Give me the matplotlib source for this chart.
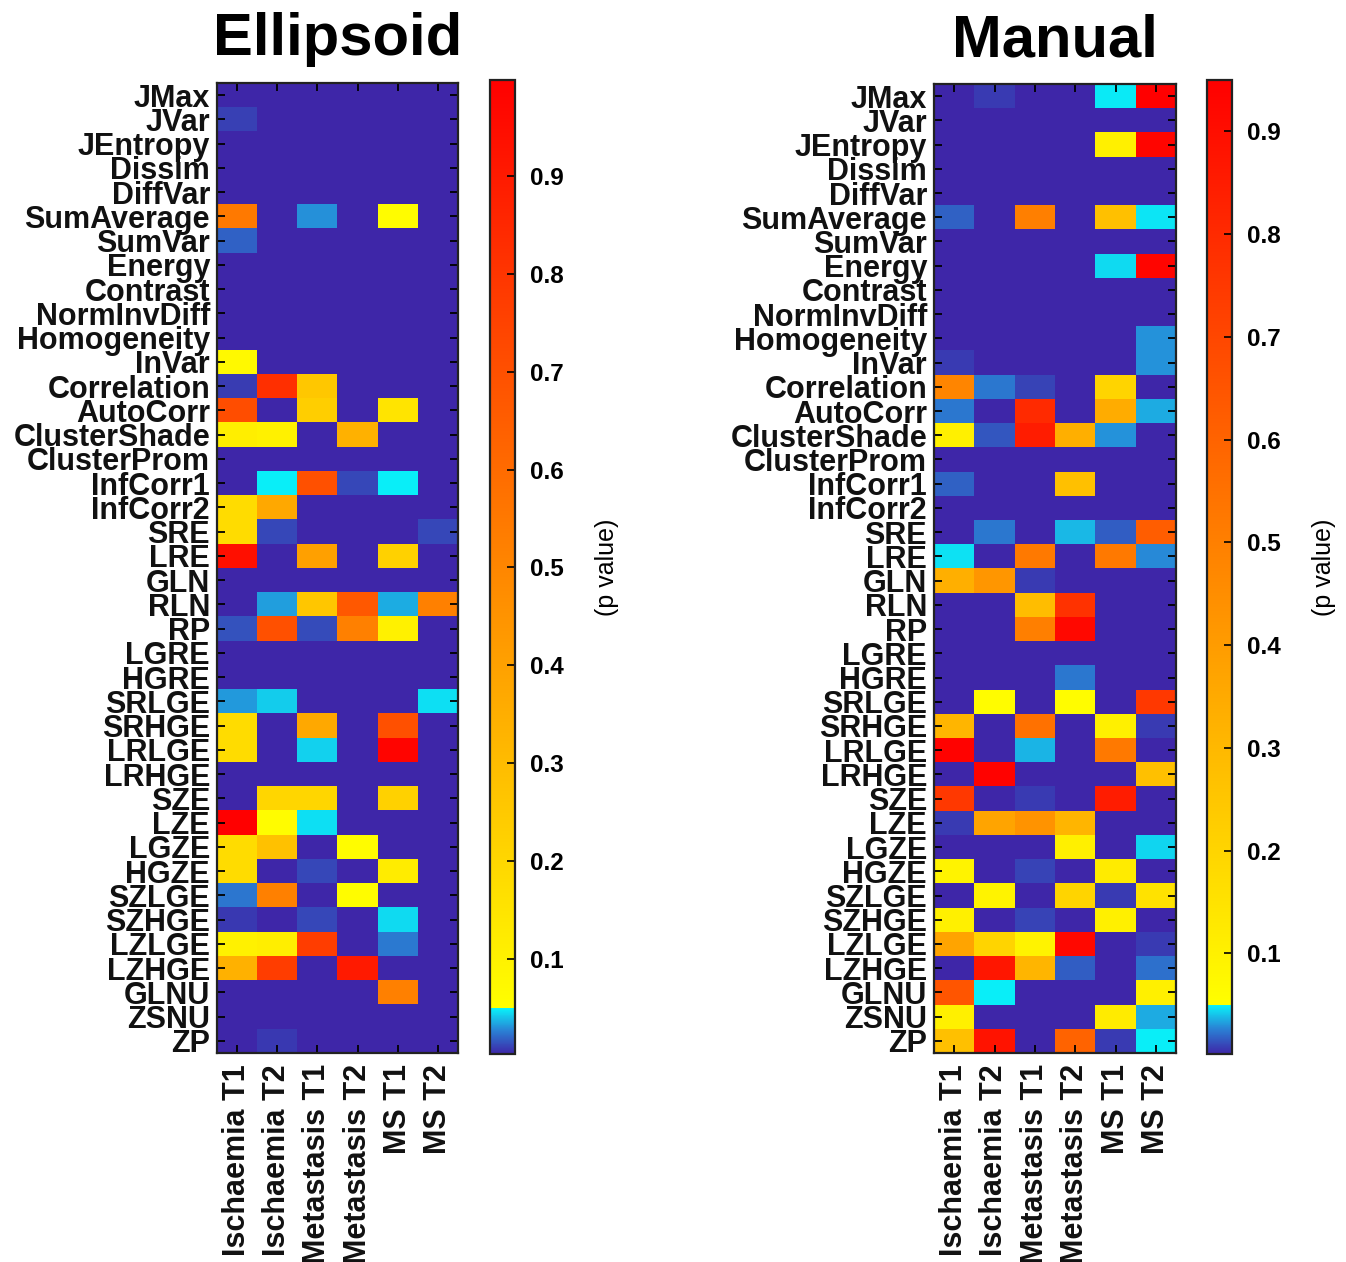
import numpy as np
import matplotlib
matplotlib.use('Agg')
import matplotlib.pyplot as plt
from matplotlib.colors import LinearSegmentedColormap

plt.rcParams['font.family'] = ['Liberation Sans', 'DejaVu Sans']

# ---- data ----
features = ['JMax', 'JVar', 'JEntropy', 'Dissim', 'DiffVar', 'SumAverage', 'SumVar',
            'Energy', 'Contrast', 'NormInvDiff', 'Homogeneity', 'InVar', 'Correlation',
            'AutoCorr', 'ClusterShade', 'ClusterProm', 'InfCorr1', 'InfCorr2', 'SRE',
            'LRE', 'GLN', 'RLN', 'RP', 'LGRE', 'HGRE', 'SRLGE', 'SRHGE', 'LRLGE',
            'LRHGE', 'SZE', 'LZE', 'LGZE', 'HGZE', 'SZLGE', 'SZHGE', 'LZLGE', 'LZHGE',
            'GLNU', 'ZSNU', 'ZP']
groups = ['Ischaemia T1', 'Ischaemia T2', 'Metastasis T1', 'Metastasis T2', 'MS T1', 'MS T2']

# p values, Ellipsoid segmentation
p_ellipsoid = [
    [0.003, 0.003, 0.003, 0.003, 0.003, 0.003],  # JMax
    [0.010, 0.003, 0.003, 0.003, 0.003, 0.003],  # JVar
    [0.003, 0.003, 0.003, 0.003, 0.003, 0.003],  # JEntropy
    [0.003, 0.003, 0.003, 0.003, 0.003, 0.003],  # Dissim
    [0.003, 0.003, 0.003, 0.003, 0.003, 0.003],  # DiffVar
    [0.545, 0.003, 0.030, 0.003, 0.060, 0.003],  # SumAverage
    [0.019, 0.003, 0.003, 0.003, 0.003, 0.003],  # SumVar
    [0.003, 0.003, 0.003, 0.003, 0.003, 0.003],  # Energy
    [0.003, 0.003, 0.003, 0.003, 0.003, 0.003],  # Contrast
    [0.003, 0.003, 0.003, 0.003, 0.003, 0.003],  # NormInvDiff
    [0.003, 0.003, 0.003, 0.003, 0.003, 0.003],  # Homogeneity
    [0.070, 0.003, 0.003, 0.003, 0.003, 0.003],  # InVar
    [0.009, 0.820, 0.255, 0.003, 0.003, 0.003],  # Correlation
    [0.710, 0.003, 0.230, 0.003, 0.150, 0.003],  # AutoCorr
    [0.110, 0.100, 0.003, 0.340, 0.003, 0.003],  # ClusterShade
    [0.003, 0.003, 0.003, 0.003, 0.003, 0.003],  # ClusterProm
    [0.003, 0.049, 0.700, 0.012, 0.049, 0.003],  # InfCorr1
    [0.180, 0.370, 0.003, 0.003, 0.003, 0.003],  # InfCorr2
    [0.180, 0.012, 0.003, 0.003, 0.003, 0.012],  # SRE
    [0.940, 0.003, 0.400, 0.003, 0.220, 0.003],  # LRE
    [0.003, 0.003, 0.003, 0.003, 0.003, 0.003],  # GLN
    [0.003, 0.033, 0.260, 0.670, 0.036, 0.520],  # RLN
    [0.015, 0.700, 0.013, 0.520, 0.100, 0.003],  # RP
    [0.003, 0.003, 0.003, 0.003, 0.003, 0.003],  # LGRE
    [0.003, 0.003, 0.003, 0.003, 0.003, 0.003],  # HGRE
    [0.032, 0.042, 0.003, 0.003, 0.003, 0.046],  # SRLGE
    [0.180, 0.003, 0.370, 0.003, 0.700, 0.003],  # SRHGE
    [0.180, 0.003, 0.043, 0.003, 0.980, 0.003],  # LRLGE
    [0.003, 0.003, 0.003, 0.003, 0.003, 0.003],  # LRHGE
    [0.003, 0.200, 0.200, 0.003, 0.220, 0.003],  # SZE
    [0.998, 0.060, 0.046, 0.003, 0.003, 0.003],  # LZE
    [0.180, 0.280, 0.003, 0.060, 0.003, 0.003],  # LGZE
    [0.180, 0.003, 0.012, 0.003, 0.120, 0.003],  # HGZE
    [0.024, 0.520, 0.003, 0.060, 0.003, 0.003],  # SZLGE
    [0.008, 0.003, 0.012, 0.003, 0.045, 0.003],  # SZHGE
    [0.100, 0.110, 0.770, 0.003, 0.025, 0.003],  # LZLGE
    [0.340, 0.770, 0.003, 0.900, 0.003, 0.003],  # LZHGE
    [0.003, 0.003, 0.003, 0.003, 0.520, 0.003],  # GLNU
    [0.003, 0.003, 0.003, 0.003, 0.003, 0.003],  # ZSNU
    [0.003, 0.008, 0.003, 0.003, 0.003, 0.003],  # ZP
]

# p values, Manual segmentation
p_manual = [
    [0.002, 0.008, 0.002, 0.002, 0.048, 0.950],  # JMax
    [0.002, 0.002, 0.002, 0.002, 0.002, 0.002],  # JVar
    [0.002, 0.002, 0.002, 0.002, 0.100, 0.930],  # JEntropy
    [0.002, 0.002, 0.002, 0.002, 0.002, 0.002],  # Dissim
    [0.002, 0.002, 0.002, 0.002, 0.002, 0.002],  # DiffVar
    [0.018, 0.002, 0.500, 0.002, 0.270, 0.047],  # SumAverage
    [0.002, 0.002, 0.002, 0.002, 0.002, 0.002],  # SumVar
    [0.002, 0.002, 0.002, 0.002, 0.045, 0.930],  # Energy
    [0.002, 0.002, 0.002, 0.002, 0.002, 0.002],  # Contrast
    [0.002, 0.002, 0.002, 0.002, 0.002, 0.002],  # NormInvDiff
    [0.002, 0.002, 0.002, 0.002, 0.002, 0.030],  # Homogeneity
    [0.008, 0.002, 0.002, 0.002, 0.002, 0.030],  # InVar
    [0.480, 0.024, 0.010, 0.002, 0.200, 0.002],  # Correlation
    [0.024, 0.002, 0.800, 0.002, 0.340, 0.035],  # AutoCorr
    [0.100, 0.015, 0.850, 0.330, 0.030, 0.002],  # ClusterShade
    [0.002, 0.002, 0.002, 0.002, 0.002, 0.002],  # ClusterProm
    [0.018, 0.002, 0.002, 0.270, 0.002, 0.002],  # InfCorr1
    [0.002, 0.002, 0.002, 0.002, 0.002, 0.002],  # InfCorr2
    [0.002, 0.024, 0.002, 0.038, 0.017, 0.620],  # SRE
    [0.046, 0.002, 0.520, 0.002, 0.520, 0.028],  # LRE
    [0.330, 0.420, 0.008, 0.002, 0.002, 0.002],  # GLN
    [0.002, 0.002, 0.280, 0.770, 0.002, 0.002],  # RLN
    [0.002, 0.002, 0.500, 0.920, 0.002, 0.002],  # RP
    [0.002, 0.002, 0.002, 0.002, 0.002, 0.002],  # LGRE
    [0.002, 0.002, 0.002, 0.024, 0.002, 0.002],  # HGRE
    [0.002, 0.060, 0.002, 0.060, 0.002, 0.750],  # SRLGE
    [0.310, 0.002, 0.550, 0.002, 0.100, 0.008],  # SRHGE
    [0.940, 0.002, 0.037, 0.002, 0.520, 0.002],  # LRLGE
    [0.002, 0.940, 0.002, 0.002, 0.002, 0.270],  # LRHGE
    [0.750, 0.002, 0.008, 0.002, 0.850, 0.002],  # SZE
    [0.008, 0.370, 0.430, 0.310, 0.002, 0.002],  # LZE
    [0.002, 0.002, 0.002, 0.100, 0.002, 0.044],  # LGZE
    [0.090, 0.002, 0.010, 0.002, 0.120, 0.002],  # HGZE
    [0.002, 0.090, 0.002, 0.200, 0.008, 0.150],  # SZLGE
    [0.100, 0.002, 0.010, 0.002, 0.100, 0.002],  # SZHGE
    [0.370, 0.200, 0.090, 0.920, 0.002, 0.008],  # LZLGE
    [0.002, 0.870, 0.310, 0.017, 0.002, 0.022],  # LZHGE
    [0.650, 0.049, 0.002, 0.002, 0.002, 0.100],  # GLNU
    [0.100, 0.002, 0.002, 0.002, 0.120, 0.035],  # ZSNU
    [0.270, 0.880, 0.002, 0.600, 0.008, 0.049],  # ZP
]

threshold = 0.05  # significance cut between blue and yellow-red parts


def make_cmap(vmin, vmax):
    # blue -> cyan below p=0.05, yellow -> red above
    cut = (threshold - vmin) / (vmax - vmin)
    nodes = [(0.0, '#3e26a8'),
             (cut * 0.5, '#2a80d4'),
             (cut - 1e-4, '#08f4fa'),
             (cut, '#ffff00'),
             (1.0, '#ff0000')]
    return LinearSegmentedColormap.from_list('pmap', nodes, N=2048)


fig = plt.figure(figsize=(13.46, 12.62), dpi=100)
W, H = 1346.0, 1262.0

panels = [
    ('Ellipsoid', p_ellipsoid, [217, 1053, 241, 970], [490, 1054, 25, 974]),
    ('Manual', p_manual, [934, 1053, 242, 969], [1207, 1054, 25, 974]),
]

for title, vals, apos, cpos in panels:
    data = np.array(vals)
    vmin, vmax = data.min(), data.max()
    ax = fig.add_axes([apos[0] / W, 1 - apos[1] / H, apos[2] / W, apos[3] / H])
    cax = fig.add_axes([cpos[0] / W, 1 - cpos[1] / H, cpos[2] / W, cpos[3] / H])

    im = ax.imshow(data, aspect='auto', cmap=make_cmap(vmin, vmax),
                   vmin=vmin, vmax=vmax, interpolation='nearest')

    ax.set_yticks(np.arange(len(features)))
    ax.set_yticklabels(features, fontsize=22, fontweight='bold', color='#111111')
    ax.set_xticks(np.arange(len(groups)))
    ax.set_xticklabels(groups, fontsize=22, fontweight='bold', rotation=90,
                       color='#111111', va='top')
    ax.tick_params(axis='y', direction='in', left=True, right=True, length=6,
                   width=1.3, pad=5)
    ax.tick_params(axis='x', direction='in', top=True, bottom=True, length=6,
                   width=1.3, pad=8)
    for s in ax.spines.values():
        s.set_linewidth(1.6)
        s.set_color('#222222')
    ax.set_title(title, fontsize=43, fontweight='bold', pad=20)

    cb = fig.colorbar(im, cax=cax)
    cb.set_ticks([0.1, 0.2, 0.3, 0.4, 0.5, 0.6, 0.7, 0.8, 0.9])
    cb.ax.tick_params(direction='in', length=6, width=1.2, labelsize=17.5, pad=11)
    for lab in cb.ax.get_yticklabels():
        lab.set_fontweight('bold')
    cb.outline.set_linewidth(1.6)
    cb.outline.set_edgecolor('#222222')
    cb.set_label('(p value)', fontsize=18, labelpad=22)

fig.savefig('out.png', dpi=100)
